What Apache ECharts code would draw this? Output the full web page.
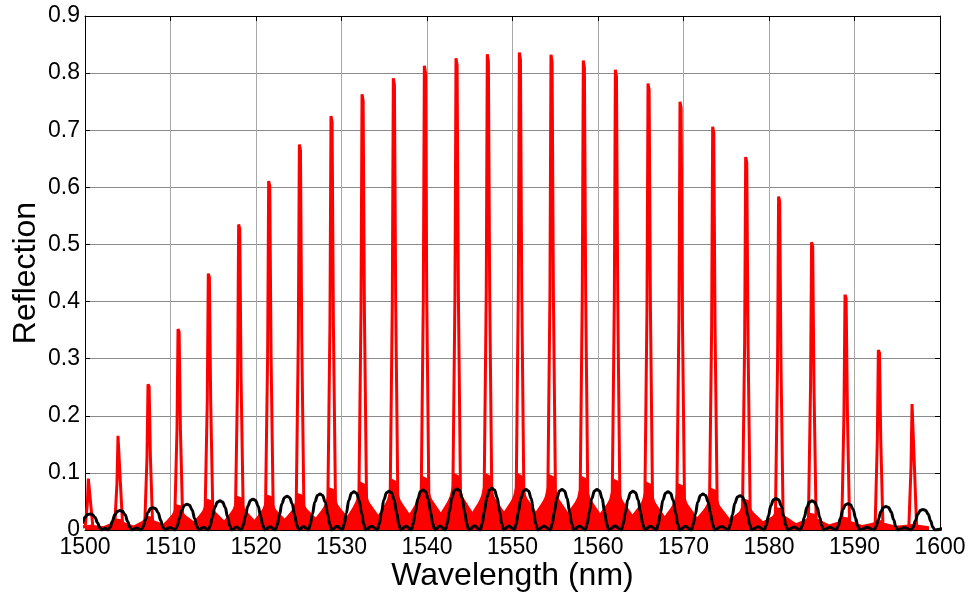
<!DOCTYPE html>
<html>
<head>
<meta charset="utf-8">
<script src="https://cdn.jsdelivr.net/npm/echarts@6/dist/echarts.min.js"></script>
<style>html,body{margin:0;padding:0;background:#fff;}#c{width:972px;height:596px;}</style>
</head>
<body>
<div id="c"></div>
<script>
// ---- data ----
const xTicks = [1500, 1510, 1520, 1530, 1540, 1550, 1560, 1570, 1580, 1590, 1600];
const yTicks = [0, 0.1, 0.2, 0.3, 0.4, 0.5, 0.6, 0.7, 0.8, 0.9];

// red series: narrow reflection peaks
const redPeakNm = [1500.47,1503.94,1507.45,1510.96,1514.50,1518.05,1521.56,1525.15,1528.85,1532.48,1536.14,1539.77,1543.47,1547.13,1550.88,1554.58,1558.36,1562.11,1565.93,1569.67,1573.49,1577.35,1581.20,1585.06,1588.97,1592.87,1596.81];
const redPeakVal = [0.090,0.165,0.255,0.352,0.449,0.535,0.611,0.675,0.725,0.763,0.791,0.813,0.826,0.833,0.836,0.832,0.822,0.806,0.782,0.750,0.706,0.653,0.584,0.504,0.412,0.315,0.2205];
// height of the dense red side structure beside each peak
const redShoulder = [0.010,0.020,0.025,0.045,0.055,0.060,0.062,0.065,0.075,0.085,0.090,0.095,0.100,0.100,0.100,0.098,0.095,0.090,0.085,0.082,0.074,0.055,0.040,0.030,0.023,0.018,0.012];
// level of the red floor between peaks (before first, between each pair, after last)
const redFloor = [0.003,0.004,0.005,0.008,0.012,0.013,0.014,0.016,0.018,0.020,0.022,0.024,0.026,0.027,0.028,0.028,0.027,0.025,0.023,0.020,0.018,0.016,0.012,0.009,0.007,0.006,0.005,0.004];
// spike shape: [offset nm, fraction of peak]
const spikeShape = [[-0.45,0],[-0.2,0.5],[-0.08,1.0],[0.05,0.985],[0.2,0.5],[0.45,0]];
// shoulder shape: [offset nm, fraction of shoulder]
const shoulderShape = [[-1.2,0.45],[-0.8,0.6],[-0.5,0.8],[-0.3,1.0],[0.3,0.95],[0.55,0.7],[0.9,0.5],[1.2,0.4]];

// black series: broad peaks
const blackPeakNm = [1500.58,1504.09,1507.95,1511.93,1515.79,1519.65,1523.63,1527.49,1531.46,1535.56,1539.53,1543.51,1547.60,1551.58,1555.79,1559.88,1564.09,1568.19,1572.28,1576.61,1580.82,1585.03,1589.24,1593.68,1598.01];
const blackPeakVal = [0.028,0.034,0.039,0.045,0.051,0.054,0.059,0.063,0.067,0.068,0.070,0.072,0.073,0.071,0.071,0.071,0.068,0.067,0.063,0.060,0.055,0.051,0.046,0.041,0.036];
// black peak shape: [offset nm, fraction of peak]
const blackShape = [[-1.38,0],[-1.14,0.15],[-0.9,0.44],[-0.6,0.78],[-0.3,0.96],[0,1],[0.3,0.96],[0.6,0.78],[0.9,0.44],[1.14,0.15],[1.38,0]];
const blackSideLobe = 0.1; // fraction of neighbouring peak at the midpoint bump

// ---- build series data ----
function mid(arr, i) { // midpoint before peak i
  if (i === 0) return arr[0] - 1.9;
  if (i === arr.length) return arr[arr.length - 1] + 1.9;
  return (arr[i - 1] + arr[i]) / 2;
}
const redFloorData = [];
const redSpikeData = [];
for (let i = 0; i < redPeakNm.length; i++) {
  const c = redPeakNm[i], h = redPeakVal[i], s = redShoulder[i];
  redFloorData.push([mid(redPeakNm, i), redFloor[i]]);
  redSpikeData.push([mid(redPeakNm, i), redFloor[i]]);
  shoulderShape.forEach(p => redFloorData.push([c + p[0], Math.max(redFloor[i], s * p[1])]));
  spikeShape.forEach(p => redSpikeData.push([c + p[0], p[1] === 0 ? s * 0.6 : h * p[1]]));
}
redFloorData.push([mid(redPeakNm, redPeakNm.length), redFloor[redPeakNm.length]]);
redSpikeData.push([mid(redPeakNm, redPeakNm.length), redFloor[redPeakNm.length]]);

const blackData = [];
for (let i = 0; i < blackPeakNm.length; i++) {
  const c = blackPeakNm[i], h = blackPeakVal[i];
  if (i > 0) {
    const hm = (blackPeakVal[i - 1] + h) / 2;
    blackData.push([mid(blackPeakNm, i), hm * blackSideLobe]);
  }
  blackShape.forEach(p => blackData.push([c + p[0], h * p[1]]));
}
blackData.push([1600.5, 0.003]);

const FONT = '"Liberation Sans", Arial, sans-serif';
const chart = echarts.init(document.getElementById('c'), null, {renderer: 'canvas'});
const baseX = {
  type: 'value', min: xTicks[0], max: xTicks[xTicks.length - 1], interval: 10,
  axisLine: {show: true, onZero: false, lineStyle: {color: '#000', width: 1}},
  axisTick: {show: true, inside: true, length: 5, lineStyle: {color: '#000'}},
};
const baseY = {
  type: 'value', min: yTicks[0], max: yTicks[yTicks.length - 1], interval: 0.1,
  axisLine: {show: true, onZero: false, lineStyle: {color: '#000', width: 1}},
  axisTick: {show: true, inside: true, length: 5, lineStyle: {color: '#000'}},
};
chart.setOption({
  animation: false,
  backgroundColor: '#fff',
  grid: {left: 85, right: 32, top: 16, bottom: 66, containLabel: false, outerBoundsMode: 'none'},
  xAxis: [
    Object.assign({}, baseX, {
      position: 'bottom',
      axisLabel: {fontSize: 23, color: '#000', fontFamily: FONT, margin: 6,
        formatter: v => String(Math.round(v))},
      splitLine: {show: true, lineStyle: {color: '#a8a8a8', width: 1}},
      name: 'Wavelength (nm)', nameLocation: 'middle', nameGap: 30, nameMoveOverlap: false,
      nameTextStyle: {fontSize: 32, color: '#000', fontFamily: FONT}
    }),
    Object.assign({}, baseX, {position: 'top', axisLabel: {show: false}, splitLine: {show: false}})
  ],
  yAxis: [
    Object.assign({}, baseY, {
      position: 'left',
      axisLabel: {fontSize: 23, color: '#000', fontFamily: FONT, margin: 5,
        formatter: v => String(Math.round(v * 10) / 10)},
      splitLine: {show: true, lineStyle: {color: '#8a8a8a', width: 1}},
      name: 'Reflection', nameLocation: 'middle', nameGap: 43, nameRotate: 90, nameMoveOverlap: false,
      nameTextStyle: {fontSize: 32, color: '#000', fontFamily: FONT}
    }),
    Object.assign({}, baseY, {position: 'right', axisLabel: {show: false}, splitLine: {show: false}})
  ],
  series: [
    {
      type: 'line', name: 'red floor', data: redFloorData, symbol: 'none', clip: true,
      lineStyle: {width: 0, color: '#ff0000'}, areaStyle: {color: '#ff0000', opacity: 1},
      silent: true, z: 2
    },
    {
      type: 'line', name: 'red', data: redSpikeData, symbol: 'none', clip: true,
      lineStyle: {width: 3, color: '#ff0000'}, z: 3
    },
    {
      type: 'line', name: 'black', data: blackData, symbol: 'none', clip: true,
      smooth: 0.4, smoothMonotone: 'x',
      lineStyle: {width: 3, color: '#000'}, z: 4
    }
  ]
});
</script>
</body>
</html>
